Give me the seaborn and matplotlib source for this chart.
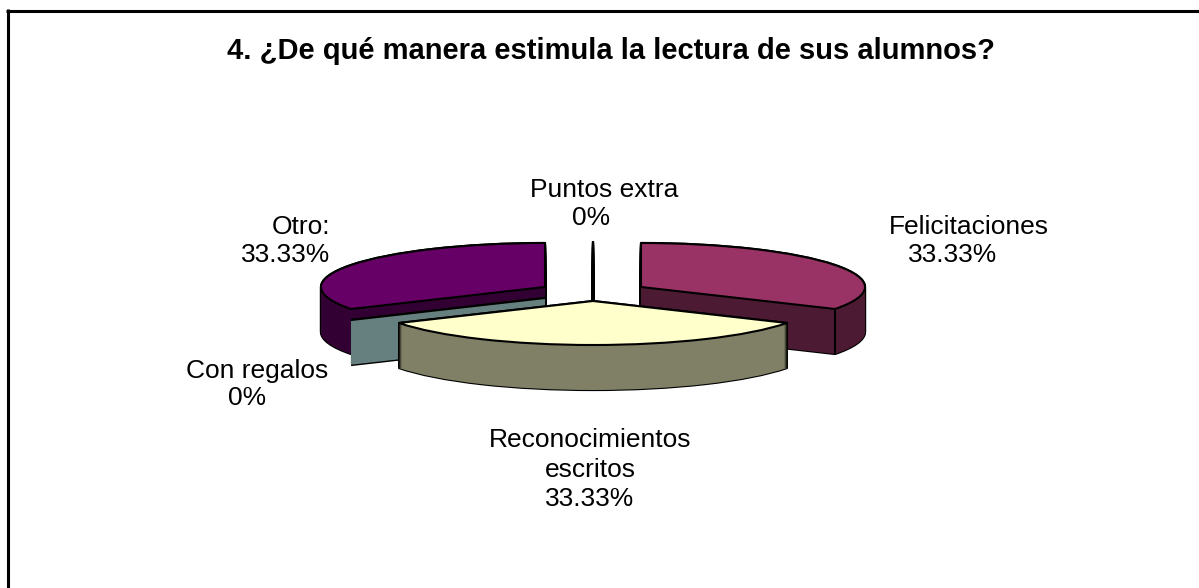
import matplotlib
matplotlib.use('Agg')
import numpy as np
import seaborn as sns
import matplotlib.pyplot as plt

categories = ['Puntos extra', 'Felicitaciones', 'Reconocimientos escritos', 'Con regalos', 'Otro:']
values = [0, 33.33, 33.33, 0, 33.33]
title = '4. ¿De qué manera estimula la lectura de sus alumnos?'

W, H = 1199, 588
RX, RY, DEPTH = 224, 44, 45
APEX = (593, 301)

sns.set_theme(style='white')
plt.rcParams['font.family'] = ['Liberation Sans', 'DejaVu Sans']

top_colors = ['#000000', '#993366', '#FFFFCC', '#000000', '#660066']
side_colors = ['#000000', '#4D1A33', '#808066', '#668080', '#330033']
# where each exploded slice has its tip, in pixels of the picture
tips = [(593, 285), (641, 287), (593, 301), (545, 298), (545, 287)]
draw_order = [4, 3, 0, 1, 2]

fig = plt.figure(figsize=(W / 100, H / 100), dpi=100, facecolor='white')
ax = fig.add_axes([0, 0, 1, 1])


def to_data(px, py):
    return (px - APEX[0]) / RX, (APEX[1] - py) / RY


def one_slice(i, start, tip_y, color, edge, lw):
    cx, cy = to_data(tips[i][0], tip_y)
    ax.pie([values[i] / sum(values)], normalize=False, startangle=start, counterclock=False,
           center=(cx, cy), radius=1, colors=[color], labeldistance=None,
           wedgeprops={'edgecolor': edge, 'linewidth': lw, 'joinstyle': 'round'})


starts = 90 - 360 * np.cumsum([0] + values[:-1]) / sum(values)

for i in draw_order:
    px, py = tips[i]
    layers = range(DEPTH, -1, -1)
    # black silhouette first, then the sides on top of it
    for d in layers:
        one_slice(i, starts[i], py + d, 'black', 'black', 1.6)
    if values[i] > 0:
        for d in layers:
            one_slice(i, starts[i], py + d, side_colors[i], 'none', 0)
    elif side_colors[i] != '#000000':
        for d in np.arange(DEPTH - 1, 0.5, -0.5):
            one_slice(i, starts[i], py + d, side_colors[i], side_colors[i], 1.0)
    one_slice(i, starts[i], py, top_colors[i], 'black', 1.5)
    # the corner between the cut face and the rim
    if i == 1:
        end = np.radians(starts[i] - 360 * values[i] / sum(values))
        x, y = to_data(px, py)
        x = x + np.cos(end)
        y = y + np.sin(end)
        ax.plot([x, x], [y, y - DEPTH / RY], color='black', lw=1.5)

ax.set_aspect('auto')
ax.set_xlim(to_data(0, 0)[0], to_data(W, 0)[0])
ax.set_ylim(to_data(0, H)[1], to_data(0, 0)[1])
ax.set_xticks([])
ax.set_yticks([])
ax.set_frame_on(False)

# chart area frame: only the top and left edges show in the picture
ax.axvline(to_data(7.5, 0)[0], ymin=0, ymax=1 - 9 / H, color='black', lw=2.2, solid_capstyle='butt')
ax.axhline(to_data(0, 10.5)[1], xmin=6 / W, xmax=1, color='black', lw=2.2, solid_capstyle='butt')


def put(text, x, y, size=19, **kw):
    fig.text(x / W, 1 - y / H, text, ha='center', va='center', color='black', fontsize=size, **kw)


pct = [f'{v:g}%' for v in values]
put(title, 611, 51, size=21, fontweight='bold')
put(categories[0], 604, 190)
put(pct[0], 591, 218)
put(categories[1], 969, 227)
put(pct[1], 953, 255)
put('Reconocimientos', 590, 440)
put('escritos', 590, 470)
put(pct[2], 590, 499)
put(categories[3], 257, 371)
put(pct[3], 247, 398)
put(categories[4], 301, 227)
put(pct[4], 286, 255)

fig.savefig('out.png', dpi=100)
